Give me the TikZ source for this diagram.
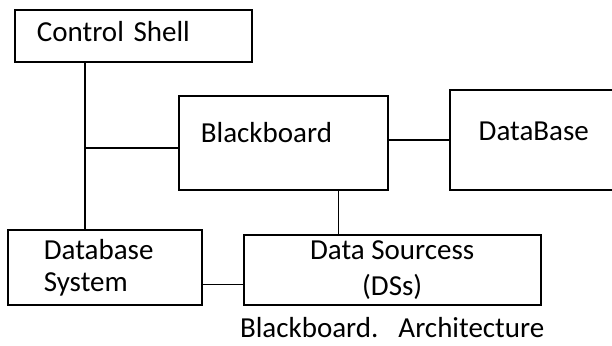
\documentclass[tikz,border=0pt]{standalone}
\usepackage{fontspec}
\setmainfont{Carlito}
\usetikzlibrary{positioning}
\tikzset{
  archbox/.style={draw,line width=1.8pt,inner sep=0pt,font=\fontsize{29}{32}\selectfont},
  archline/.style={line width=1.8pt},
  archcaption/.style={inner sep=0pt,font=\fontsize{29}{32}\selectfont}
}

\begin{document}
\begin{tikzpicture}[x=1pt,y=-1pt]
  \useasboundingbox (0,0) rectangle (612,345);
  \node[archbox,anchor=north west,minimum width=237pt,minimum height=52pt,
        text width=193pt,align=left,inner xsep=22pt,text height=31.7pt,text depth=20.3pt]
        (ctrl) at (14,9) {Control Shell};
  \node[archbox,anchor=north west,minimum width=209pt,minimum height=94pt,
        text width=165pt,align=left,inner xsep=22pt,text height=47pt,text depth=47pt]
        (bb) at (178,95) {Blackboard};
  \node[archbox,right=60pt of bb.south east,anchor=south west,minimum width=173pt,minimum height=100pt,
        text width=115pt,align=left,inner xsep=29pt,text height=51pt,text depth=49pt]
        (db) {DataBase};
  \node[archbox,anchor=north west,minimum width=194pt,minimum height=75pt,
        text width=122pt,align=left,inner xsep=36pt]
        (dbsys) at (7,229) {Database\\System};
  \node[archbox,right=40pt of dbsys.south east,anchor=south west,minimum width=297pt,minimum height=70pt,
        align=center]
        (ds) {Data Sourcess\\[4pt](DSs)};
  \node[archcaption,below=11pt of ds] (cap) {Blackboard.\hspace{20pt}Architecture};
  % links between the parts
  \coordinate (jn) at (85,148);
  \draw[archline] (ctrl.south -| jn) -- (jn) -- (jn -| bb.west);
  \draw[archline] (jn) -- (jn |- dbsys.north);
  \draw[archline] (db.west -| bb.east) -- (db.west);
  \draw[archline] ([xshift=55pt]bb.south) -- ([xshift=55pt]bb.south |- ds.north);
  \draw[archline] ([yshift=-17pt]dbsys.east) -- ([yshift=-17pt]dbsys.east -| ds.west);
\end{tikzpicture}
\end{document}
